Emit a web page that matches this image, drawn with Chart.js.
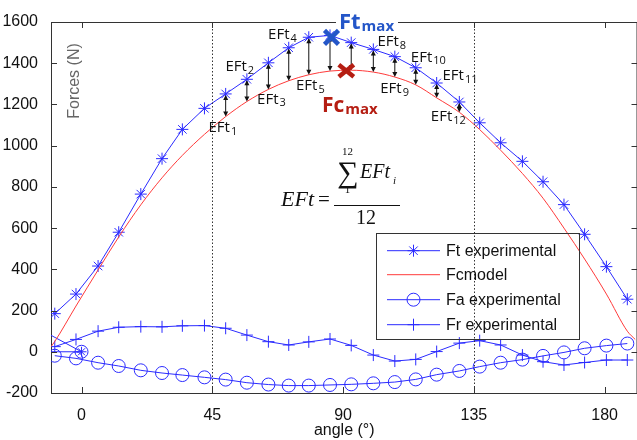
<!DOCTYPE html>
<html>
<head>
<meta charset="utf-8">
<script src="https://cdn.jsdelivr.net/npm/chart.js"></script>
<style>
  html, body { margin: 0; padding: 0; background: #fff; overflow: hidden; }
  #wrap { width: 645px; height: 440px; }
</style>
</head>
<body>
<div id="wrap"><canvas id="chart"></canvas></div>
<script>
// angle of each measured sample (deg)
const angles = [-9.2, -1.9, 5.7, 12.8, 20.4, 27.7, 34.7, 42.3, 49.6, 56.9, 64.3, 71.3, 78.2, 85.5,
  92.8, 100.4, 107.8, 115.0, 122.2, 130.0, 137.0, 144.2, 151.7, 158.8, 166.0, 173.1, 180.6, 187.8]
const ftExperimental = [185, 280, 416, 580, 765, 937, 1079, 1181, 1251, 1322, 1402, 1475, 1526, 1535,
  1500, 1467, 1432, 1378, 1304, 1212, 1111, 1014, 924, 825, 714, 570, 413, 255]
const faExperimental = [-19, -32, -53, -69, -90, -103, -113, -124, -135, -150, -159, -164, -164, -161,
  -158, -153, -147, -134, -111, -93, -72, -53, -38, -20, -3, 17, 30, 40]
const frExperimental = [25, 60, 100, 119, 122, 121, 126, 127, 114, 81, 49, 33, 48, 62,
  31, -16, -45, -37, 1, 42, 54, 33, -16, -48, -64, -52, -40, -40]
// model curve: same angles plus both ends of the axis
const fcAngles = [-10.5, ...angles, 190.5]
const fcModel = [25, 50, 222, 397, 557, 713, 844, 953, 1055, 1141, 1214, 1273, 1315, 1344, 1362,
  1366, 1357, 1333, 1295, 1232, 1162, 1078, 978, 865, 745, 600, 450, 280, 100, 60]
// stray segments meeting at the origin
const originAngles = [-10.5, 0]
const originHigh = [80, 0]
const originFlat = [0, 0]

const xTicks = [0, 45, 90, 135, 180]
const yTicks = [-200, 0, 200, 400, 600, 800, 1000, 1200, 1400, 1600]
const guideAngles = [45, 135]
const efIndices = [8, 9, 10, 11, 12, 13, 14, 15, 16, 17, 18, 19]
const efLabels = [
  { sub: "1", angle: 43.7, value: 1087 },
  { sub: "2", angle: 49.5, value: 1383 },
  { sub: "3", angle: 60.4, value: 1225 },
  { sub: "4", angle: 64.2, value: 1540 },
  { sub: "5", angle: 73.8, value: 1289 },
  { sub: "8", angle: 101.8, value: 1504 },
  { sub: "9", angle: 102.8, value: 1278 },
  { sub: "10", angle: 113.3, value: 1429 },
  { sub: "11", angle: 124.2, value: 1338 },
  { sub: "12", angle: 120.2, value: 1141 }
]
const ftMax = { angle: 86.0, value: 1525 }
const fcMax = { angle: 91.1, value: 1363 }

const BLUE = "#2b2bff"
const RED = "#ff3a3a"
const SANS = "'Liberation Sans', Arial, sans-serif"

const pts = (xs, ys) => xs.map((a, i) => ({ x: a, y: ys[i] }))

function seg(ctx, x1, y1, x2, y2) {
  ctx.beginPath()
  ctx.moveTo(x1, y1)
  ctx.lineTo(x2, y2)
  ctx.stroke()
}

function arrow(ctx, px, yTop, yBottom) {
  seg(ctx, px, yTop + 2, px, yBottom - 2)
  ctx.beginPath()
  ctx.moveTo(px, yTop + 1)
  ctx.lineTo(px - 2.5, yTop + 6)
  ctx.lineTo(px + 2.5, yTop + 6)
  ctx.closePath()
  ctx.fill()
  ctx.beginPath()
  ctx.moveTo(px, yBottom)
  ctx.lineTo(px - 2.5, yBottom - 5)
  ctx.lineTo(px + 2.5, yBottom - 5)
  ctx.closePath()
  ctx.fill()
}

function subText(ctx, main, sub, x, y, mainFont, subFont, drop) {
  ctx.font = mainFont
  ctx.fillText(main, x, y)
  const w = ctx.measureText(main).width
  ctx.font = subFont
  ctx.fillText(sub, x + w + 1, y + drop)
}

const notesPlugin = {
  id: "notes",
  afterDatasetsDraw(chart) {
    const { ctx, chartArea: a, scales: { x, y } } = chart
    ctx.save()

    // dotted guides
    ctx.strokeStyle = "#333"
    ctx.lineWidth = 1
    ctx.setLineDash([1.5, 2])
    guideAngles.forEach((g) => {
      const px = Math.round(x.getPixelForValue(g)) + 0.5
      seg(ctx, px, a.top, px, a.bottom)
    })
    ctx.setLineDash([])

    // frame top and right, inward ticks
    ctx.strokeStyle = "#333"
    seg(ctx, a.left, a.top + 0.5, a.right, a.top + 0.5)
    seg(ctx, a.right - 0.5, a.top, a.right - 0.5, a.bottom)
    xTicks.forEach((v) => {
      const px = Math.round(x.getPixelForValue(v)) + 0.5
      seg(ctx, px, a.bottom, px, a.bottom - 6)
      seg(ctx, px, a.top, px, a.top + 6)
    })
    yTicks.forEach((v) => {
      const py = Math.round(y.getPixelForValue(v)) + 0.5
      seg(ctx, a.left, py, a.left + 6, py)
      seg(ctx, a.right, py, a.right - 6, py)
    })

    // EFt arrows between experiment and model
    ctx.strokeStyle = "#111"
    ctx.fillStyle = "#111"
    efIndices.forEach((i) => {
      const px = x.getPixelForValue(angles[i])
      arrow(ctx, px, y.getPixelForValue(ftExperimental[i]), y.getPixelForValue(fcModel[i + 1]))
    })

    // EFt labels
    ctx.textBaseline = "middle"
    ctx.textAlign = "left"
    ctx.fillStyle = "#111"
    efLabels.forEach((l) => {
      subText(ctx, "EFt", l.sub, x.getPixelForValue(l.angle), y.getPixelForValue(l.value),
        "15px 'Open Sans', sans-serif", "11px 'Open Sans', sans-serif", 4)
    })

    // max markers
    ctx.lineWidth = 4.5
    ctx.lineCap = "butt"
    const cross = (px, py, w, h, color) => {
      ctx.strokeStyle = color
      seg(ctx, px - w, py - h, px + w, py + h)
      seg(ctx, px - w, py + h, px + w, py - h)
    }
    cross(x.getPixelForValue(ftMax.angle), y.getPixelForValue(ftMax.value), 7, 7, "#2456c8")
    cross(x.getPixelForValue(fcMax.angle), y.getPixelForValue(fcMax.value), 7.5, 6, "#b51d12")

    ctx.fillStyle = "#fff"
    ctx.fillRect(336, 16, 62, 10)
    ctx.textBaseline = "alphabetic"
    ctx.fillStyle = "#2456c8"
    subText(ctx, "Ft", "max", 339, 28.5, "bold 22px 'Open Sans', sans-serif", "bold 15px 'Open Sans', sans-serif", 2)
    ctx.fillStyle = "#b51d12"
    subText(ctx, "Fc", "max", 322, 111.5, "bold 21px 'Open Sans', sans-serif", "bold 15px 'Open Sans', sans-serif", 2)

    // formula
    ctx.fillStyle = "#111"
    ctx.font = "italic 22px 'Liberation Serif', serif"
    ctx.fillText("EFt", 281, 206)
    ctx.font = "21px 'Liberation Serif', serif"
    ctx.fillText("=", 318, 206)
    ctx.lineWidth = 1
    ctx.strokeStyle = "#111"
    seg(ctx, 334, 205.5, 400, 205.5)
    ctx.textAlign = "center"
    ctx.font = "30px 'Liberation Serif', serif"
    ctx.fillText("\u2211", 348, 182)
    ctx.font = "11px 'Liberation Serif', serif"
    ctx.fillText("12", 347.5, 155)
    ctx.fillText("1", 347.5, 193)
    ctx.font = "20px 'Liberation Serif', serif"
    ctx.fillText("12", 366, 224)
    ctx.textAlign = "left"
    ctx.font = "italic 20px 'Liberation Serif', serif"
    ctx.fillText("EFt", 360, 178)
    ctx.font = "italic 11px 'Liberation Serif', serif"
    ctx.fillText("i", 393, 184)

    // y title inside the frame
    ctx.save()
    ctx.translate(75, 81)
    ctx.rotate(-Math.PI / 2)
    ctx.textAlign = "center"
    ctx.textBaseline = "middle"
    ctx.fillStyle = "#666"
    ctx.font = "16px " + SANS
    ctx.fillText("Forces (N)", 0, 0)
    ctx.restore()

    // legend
    ctx.lineWidth = 1
    ctx.strokeStyle = "#333"
    ctx.strokeRect(376.5, 233.5, 203, 106)
    const rows = [
      { text: "Ft experimental", color: BLUE, style: "star" },
      { text: "Fcmodel", color: RED, style: false },
      { text: "Fa experimental", color: BLUE, style: "circle" },
      { text: "Fr experimental", color: BLUE, style: "cross" }
    ]
    const rowY = [250.7, 274.7, 299.7, 324.7]
    rows.forEach((r, i) => {
      const ry = rowY[i]
      ctx.strokeStyle = r.color
      ctx.lineWidth = 1
      seg(ctx, 387, ry, 440, ry)
      if (r.style) {
        ctx.fillStyle = "rgba(0,0,0,0)"
        Chart.helpers.drawPoint(ctx, { pointStyle: r.style, radius: r.style === "circle" ? 6.5 : 6, rotation: 0, borderWidth: 1 }, 413.5, ry)
      }
      ctx.fillStyle = "#111"
      ctx.font = "16px " + SANS
      ctx.textBaseline = "middle"
      ctx.fillText(r.text, 446, ry + 1)
    })

    ctx.restore()
  }
}

const lineSet = (label, data, color, style, radius) => ({
  label,
  data,
  borderColor: color,
  backgroundColor: "rgba(0,0,0,0)",
  borderWidth: 1,
  pointStyle: style || "circle",
  pointRadius: radius || 0,
  pointBorderWidth: 1,
  pointBorderColor: color,
  pointBackgroundColor: "rgba(0,0,0,0)",
  tension: 0
})

const fcSet = lineSet("Fcmodel", pts(fcAngles, fcModel), RED)
fcSet.cubicInterpolationMode = "monotone"

const originCircle = lineSet("origin a", pts(originAngles, originHigh), BLUE, "circle", 0)
originCircle.pointRadius = [0, 6.5]
const originStar = lineSet("origin b", pts(originAngles, originFlat), BLUE, "star", 0)
originStar.pointRadius = [0, 5]

new Chart(document.getElementById("chart"), {
  type: "line",
  data: {
    datasets: [
      fcSet,
      lineSet("Ft experimental", pts(angles, ftExperimental), BLUE, "star", 6),
      lineSet("Fa experimental", pts(angles, faExperimental), BLUE, "circle", 6.5),
      lineSet("Fr experimental", pts(angles, frExperimental), BLUE, "cross", 6),
      originCircle,
      originStar
    ]
  },
  options: {
    responsive: true,
    maintainAspectRatio: false,
    animation: false,
    layout: { padding: { top: 22, right: 5, left: 0, bottom: 0 } },
    plugins: { legend: { display: false }, tooltip: { enabled: false } },
    scales: {
      x: {
        type: "linear",
        min: -10.5,
        max: 191.3,
        afterBuildTicks: (s) => { s.ticks = xTicks.map((v) => ({ value: v })) },
        afterFit: (s) => { s.height = 47 },
        grid: { display: false },
        border: { display: true, color: "#333" },
        ticks: { color: "#111", font: { family: SANS, size: 16 }, padding: 5, maxRotation: 0, autoSkip: false },
        title: { display: true, text: "angle (°)", color: "#111", font: { family: SANS, size: 16 }, padding: { top: 0, bottom: 0 } }
      },
      y: {
        min: -200,
        max: 1600,
        afterBuildTicks: (s) => { s.ticks = yTicks.map((v) => ({ value: v })) },
        afterFit: (s) => { s.width = 51 },
        grid: { display: false },
        border: { display: true, color: "#333" },
        ticks: { color: "#111", font: { family: SANS, size: 16 }, padding: 5, callback: (v) => String(v) }
      }
    }
  },
  plugins: [notesPlugin]
})
</script>
</body>
</html>
